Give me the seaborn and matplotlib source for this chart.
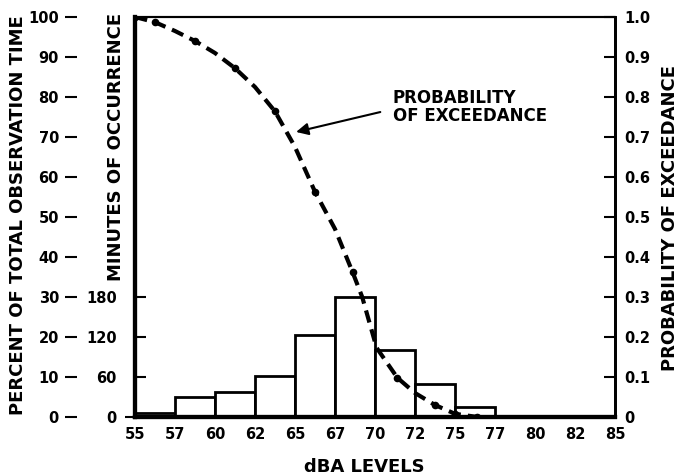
import matplotlib
matplotlib.use("Agg")
import matplotlib.pyplot as plt
import seaborn as sns
import numpy as np

# ---- data ----
bin_edges = [55, 57.5, 60, 62.5, 65, 67.5, 70, 72.5, 75, 77.5]
bin_centers = [56.25, 58.75, 61.25, 63.75, 66.25, 68.75, 71.25, 73.75, 76.25]
percent_time = [1.0, 5.0, 6.2, 10.2, 20.5, 30.0, 16.7, 8.2, 2.5]

curve_x = [55, 56.25, 57.5, 58.75, 60, 61.25, 62.5, 63.75, 65, 66.25, 67.5,
           68.6, 69.2, 70.1, 71.4, 72.5, 73.75, 75, 76.4]
curve_p = [1.0, 0.987, 0.965, 0.94, 0.91, 0.872, 0.825, 0.764, 0.675, 0.563, 0.47,
           0.362, 0.30, 0.173, 0.098, 0.06, 0.03, 0.008, 0.0]
dot_idx = [0, 1, 3, 5, 7, 9, 11, 14, 16, 17, 18]

x_ticks = [55, 57.5, 60, 62.5, 65, 67.5, 70, 72.5, 75, 77.5, 80, 82.5, 85]
x_labels = ["55", "57", "60", "62", "65", "67", "70", "72", "75", "77", "80", "82", "85"]
pct_ticks = [0, 10, 20, 30, 40, 50, 60, 70, 80, 90, 100]
min_ticks = [0, 10, 20, 30]
min_labels = ["0", "60", "120", "180"]
prob_ticks = [0, 0.1, 0.2, 0.3, 0.4, 0.5, 0.6, 0.7, 0.8, 0.9, 1.0]
prob_labels = ["0", "0.1", "0.2", "0.3", "0.4", "0.5", "0.6", "0.7", "0.8", "0.9", "1.0"]

sns.set_style("white")
plt.rcParams['font.family'] = ['DejaVu Sans']
plt.rcParams['font.weight'] = 'bold'
for k in ('text.color', 'axes.labelcolor', 'xtick.color', 'ytick.color', 'axes.edgecolor'):
    plt.rcParams[k] = 'black'

fig = plt.figure(figsize=(6.8, 4.76), dpi=100)
ax = fig.add_axes([135/680, 1 - 417/476, 480/680, 400/476])

sns.histplot(x=bin_centers, weights=percent_time, bins=bin_edges, ax=ax,
             color="white", edgecolor="black", linewidth=2, alpha=1)
ax.set_xlim(55, 85)
ax.set_ylim(0, 100)
ax.set_xlabel("")
ax.set_ylabel("")
ax.set_xticks(x_ticks, labels=x_labels)
ax.set_yticks(min_ticks, labels=min_labels)
ax.yaxis.remove_overlapping_locs = False
ax.set_yticks([0], minor=True)
ax.tick_params(axis='x', direction='in', length=8, width=1.5, pad=7, labelsize=10.5)
ax.tick_params(axis='y', direction='in', length=8, width=1.5, pad=13, labelsize=10.5)
ax.tick_params(axis='y', which='minor', direction='out', length=7, width=1.5, left=True)
for lab in ax.get_xticklabels() + ax.get_yticklabels():
    lab.set_fontweight('bold')

# percent axis, far left
sec = ax.secondary_yaxis((77 - 135) / 480)
sec.set_yticks(pct_ticks, labels=[str(t) for t in pct_ticks])
sec.spines['left'].set_visible(False)
sec.tick_params(axis='y', direction='out', length=9, width=1.5, pad=4, labelsize=10.5)
for lab in sec.get_yticklabels():
    lab.set_fontweight('bold')

# probability axis
ax2 = ax.twinx()
sns.lineplot(x=curve_x, y=curve_p, ax=ax2, color="black", linewidth=3,
             linestyle=(0, (3, 1.7)), marker="o", markersize=5.5,
             markevery=dot_idx, markeredgewidth=0)
ax2.set_ylim(0, 1.0)
ax2.set_xlim(55, 85)
ax2.set_ylabel("")
ax2.set_yticks(prob_ticks, labels=prob_labels)
ax2.tick_params(axis='y', direction='in', length=8, width=1.5, pad=7, labelsize=10.5)
for lab in ax2.get_yticklabels():
    lab.set_fontweight('bold')

for a in (ax, ax2):
    a.spines['left'].set_linewidth(3)
    a.spines['bottom'].set_linewidth(3)
    a.spines['right'].set_linewidth(2)
    a.spines['top'].set_linewidth(1.5)
    for s in a.spines.values():
        s.set_color("black")

ax.annotate("", xy=(64.9, 71.1), xytext=(70.5, 76.4),
            arrowprops=dict(arrowstyle='-|>', color='black', lw=1.5, mutation_scale=18))
ax.text(71.1, 77.6, "PROBABILITY\nOF EXCEEDANCE", ha='left', va='center',
        fontsize=12, fontweight='bold', linespacing=1.0)

fig.text(18/680, 1 - 215/476, "PERCENT OF TOTAL OBSERVATION TIME", rotation=90,
         ha='center', va='center', fontsize=13, fontweight='bold')
fig.text(116/680, 1 - 147/476, "MINUTES OF OCCURRENCE", rotation=90,
         ha='center', va='center', fontsize=13, fontweight='bold')
fig.text(670/680, 1 - 218/476, "PROBABILITY OF EXCEEDANCE", rotation=90,
         ha='center', va='center', fontsize=13, fontweight='bold')
fig.text(364/680, 1 - 467/476, "dBA LEVELS", ha='center', va='center',
         fontsize=13, fontweight='bold')

fig.savefig("out.png", dpi=100)
